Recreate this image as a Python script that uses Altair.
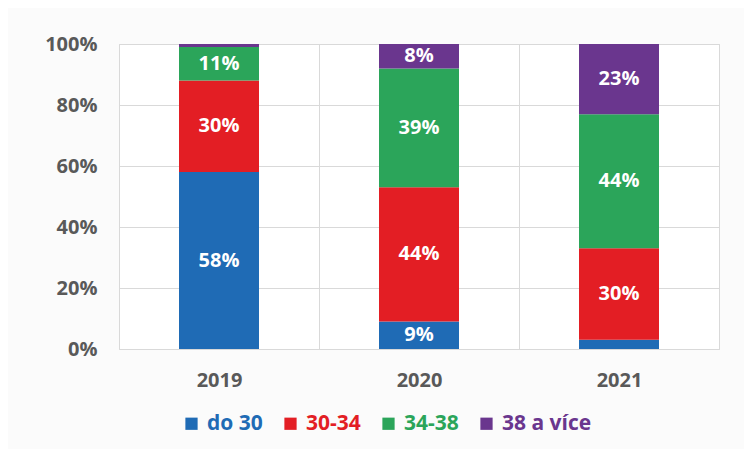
import altair as alt
import pandas as pd

years = ["2019", "2020", "2021"]
groups = ["do 30", "30-34", "34-38", "38 a více"]
colors = ["#1F6BB5", "#E31E24", "#2BA55A", "#6A368E"]
values = {
    "do 30": [58, 9, 3],
    "30-34": [30, 44, 30],
    "34-38": [11, 39, 44],
    "38 a více": [1, 8, 23],
}

rows = []
for gi, g in enumerate(groups):
    for yi, y in enumerate(years):
        rows.append({"year": y, "group": g, "idx": gi, "value": values[g][yi]})
df = pd.DataFrame(rows)

font = "Open Sans"
color_expr = " : ".join(
    [f"datum.label == '{g}' ? '{c}'" for g, c in zip(groups, colors)]
) + " : '#333'"

base = alt.Chart(df).transform_stack(
    stack="value", groupby=["year"], as_=["y0", "y1"], sort=[{"field": "idx"}]
).transform_calculate(mid="(datum.y0 + datum.y1) / 2")

x = alt.X(
    "year:N",
    title=None,
    scale=alt.Scale(paddingInner=0, paddingOuter=0),
    axis=alt.Axis(
        labelAngle=0, grid=True, tickBand="extent", ticks=False, domain=False,
        labelFont=font, labelFontSize=20, labelFontWeight="bold",
        labelColor="#595959", labelPadding=21, gridColor="#d9d9d9",
    ),
)

bars = base.mark_bar(size=80).encode(
    x=x,
    y=alt.Y(
        "y0:Q",
        title=None,
        scale=alt.Scale(domain=[0, 100], nice=False),
        axis=alt.Axis(
            values=[0, 20, 40, 60, 80, 100], labelExpr="datum.value + '%'",
            ticks=False, domain=False, labelFont=font, labelFontSize=20,
            labelFontWeight="bold", labelColor="#595959", labelPadding=22,
            gridColor="#d9d9d9",
        ),
    ),
    y2="y1:Q",
    color=alt.Color(
        "group:N",
        scale=alt.Scale(domain=groups, range=colors),
        sort=groups,
        legend=alt.Legend(
            title=None, orient="none", direction="horizontal",
            legendX=62, legendY=369, symbolType="square", symbolSize=150,
            symbolStrokeWidth=0, symbolOpacity=1,
            labelFont=font, labelFontSize=21, labelFontWeight="bold",
            labelColor={"expr": color_expr}, labelOffset=5, columnPadding=17,
            labelLimit=300,
        ),
    ),
)

labels = base.transform_filter("datum.value >= 5").mark_text(
    color="white", font=font, fontSize=20, fontWeight="bold", baseline="middle"
).encode(
    x=alt.X("year:N"),
    y=alt.Y("mid:Q"),
    text=alt.Text("label:N"),
).transform_calculate(label="datum.value + '%'")

chart = alt.layer(bars, labels).properties(
    width=600, height=305,
    autosize=alt.AutoSizeParams(type="none"),
    padding={"left": 111, "top": 36, "right": 25, "bottom": 100},
    background="#fbfbfb",
).configure_view(fill="white", stroke="#d9d9d9")

chart.save("out.html", embed_options={"renderer": "svg", "actions": False})
